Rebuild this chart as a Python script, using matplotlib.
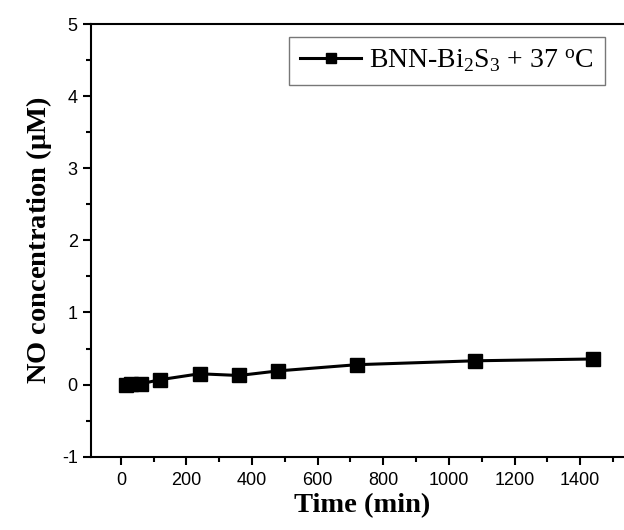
import matplotlib
matplotlib.use("Agg")
import matplotlib.pyplot as plt
from matplotlib.ticker import MultipleLocator

# 폰트 설정
plt.rcParams['font.family'] = 'Liberation Sans'
plt.rcParams['mathtext.fontset'] = 'custom'
plt.rcParams['mathtext.rm'] = 'Liberation Serif'
plt.rcParams['mathtext.it'] = 'Liberation Serif:italic'
plt.rcParams['mathtext.bf'] = 'Liberation Serif:bold'
plt.rcParams['axes.unicode_minus'] = False

# data
time_min = [15, 30, 60, 120, 240, 360, 480, 720, 1080, 1440]
no_conc = [0.0, 0.01, 0.01, 0.068, 0.15, 0.126, 0.19, 0.276, 0.33, 0.355]
series_label = r'BNN-Bi$_2$S$_3$ + 37 $^{\rm o}$C'

fig = plt.figure(figsize=(6.24, 5.30), dpi=100)
# right edge of the axes runs past the figure (cropped like the original)
ax = fig.add_axes([0.1458, 0.1383, 0.868, 0.8164])

ax.plot(time_min, no_conc, color='black', lw=2.2, marker='s', markersize=9.5,
        label=series_label)

ax.set_xlim(-91, 1560)
ax.set_ylim(-1, 5)
ax.xaxis.set_major_locator(MultipleLocator(200))
ax.xaxis.set_minor_locator(MultipleLocator(100))
ax.yaxis.set_major_locator(MultipleLocator(1))
ax.yaxis.set_minor_locator(MultipleLocator(0.5))
ax.tick_params(which='major', direction='out', length=6, width=1.5, labelsize=13)
ax.tick_params(which='minor', direction='out', length=3.5, width=1.5)
ax.tick_params(axis='x', pad=5)
for s in ax.spines.values():
    s.set_linewidth(1.5)
ax.spines['right'].set_visible(False)

ax.set_xlabel('Time (min)', fontname='Liberation Serif', fontweight='bold',
              fontsize=20.5, labelpad=3)
ax.set_ylabel(r'NO concentration ($\mathbf{\mu}$M)', fontname='Liberation Serif',
              fontweight='bold', fontsize=20.5, labelpad=6)

leg = ax.legend(loc='upper right', bbox_to_anchor=(605 / 624, 1 - 37 / 530),
                bbox_transform=fig.transFigure, borderaxespad=0,
                prop={'family': 'Liberation Serif', 'size': 20},
                frameon=True, fancybox=False, edgecolor='#555555',
                handlelength=2.2, handletextpad=0.3, borderpad=0.4,
                markerscale=0.7)
leg.get_frame().set_linewidth(1.0)

plt.savefig('out.png', dpi=100)
